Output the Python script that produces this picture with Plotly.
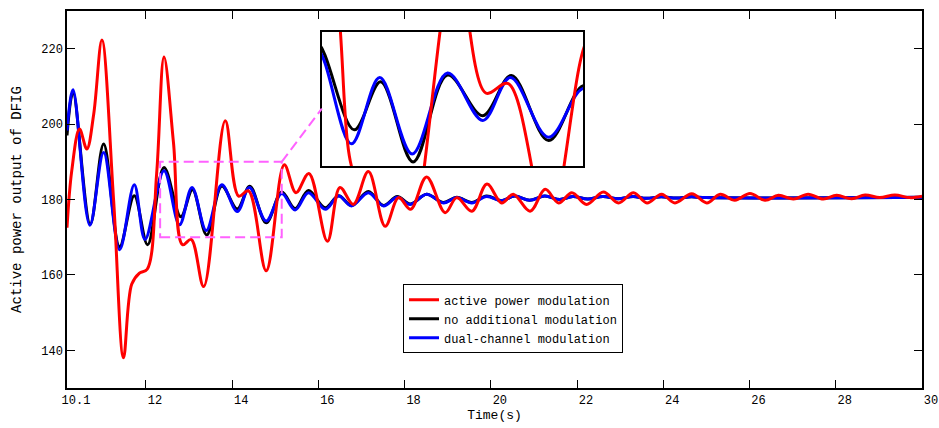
import plotly.graph_objects as go

# ---------------- data ----------------
t_red = [10.17, 10.28, 10.46, 10.63, 10.79, 10.98, 11.25, 11.48, 11.67, 11.85, 12.03, 12.25,
         12.42, 12.64, 12.85, 13.05, 13.34, 13.84, 14.15, 14.38, 14.79, 15.21, 15.48, 15.78,
         16.21, 16.50, 16.81, 17.16, 17.55, 17.86, 18.14, 18.51, 18.94, 19.21, 19.56, 19.91,
         20.25, 20.52, 20.91, 21.26, 21.57, 21.88, 22.22, 22.61, 22.96, 23.31, 23.62, 23.96,
         24.27, 24.66, 25.01, 25.32, 25.66, 26.01, 26.36, 26.67, 27.02, 27.36, 27.71, 28.02,
         28.37, 28.68, 29.02, 29.37, 29.72, 30.0]
p_red = [172.5, 187.6, 198.7, 193.4, 202.7, 222.3, 180.0, 138.0, 157.5, 160.5, 161.5, 187.0,
         217.8, 195.0, 168.0, 169.4, 156.9, 200.9, 180.9, 182.3, 161.1, 189.2, 181.8, 186.9,
         168.9, 183.2, 178.7, 187.4, 172.9, 180.5, 177.4, 186.0, 176.5, 180.5, 176.9, 184.1,
         179.1, 181.4, 176.9, 182.7, 179.1, 181.8, 178.7, 182.0, 179.1, 181.8, 179.1, 181.4,
         179.1, 181.5, 179.1, 181.4, 179.8, 181.6, 179.8, 181.1, 180.1, 181.4, 180.1, 181.1,
         180.2, 181.2, 180.5, 181.2, 180.5, 180.9]

t_black = [10.17, 10.31, 10.71, 11.02, 11.39, 11.73, 12.04, 12.42, 12.81, 13.08, 13.41, 13.76,
           14.12, 14.41, 14.79, 15.15, 15.46, 15.77, 16.16, 16.47, 16.77, 17.16, 17.51, 17.83,
           18.13, 18.51, 18.90, 19.21, 19.56, 19.90, 20.25, 20.55, 20.90, 21.25, 21.60, 21.90,
           22.25, 22.60, 22.95, 23.30, 23.60, 23.95, 24.30, 24.65, 25.00, 30.0]
p_black = [197.0, 208.5, 173.5, 194.7, 167.5, 181.0, 168.0, 188.5, 175.4, 182.6, 170.6, 183.6,
           177.5, 183.5, 173.8, 182.0, 177.6, 182.4, 177.8, 181.0, 178.4, 182.1, 178.4, 180.8,
           178.8, 181.4, 179.2, 180.6, 179.2, 180.9, 179.7, 180.9, 179.8, 180.9, 180.0, 180.8,
           180.1, 180.8, 180.2, 180.8, 180.3, 180.7, 180.4, 180.7, 180.5, 180.6]

t_blue = [10.17, 10.31, 10.70, 11.02, 11.39, 11.73, 11.98, 12.42, 12.78, 13.07, 13.40, 13.76,
          14.12, 14.40, 14.79, 15.15, 15.46, 15.77, 16.16, 16.47, 16.77, 17.16, 17.51, 17.83,
          18.13, 18.51, 18.90, 19.21, 19.56, 19.90, 20.25, 20.55, 20.90, 21.25, 21.60, 21.90,
          22.25, 22.60, 22.95, 23.30, 23.60, 23.95, 24.30, 24.65, 25.00, 30.0]
p_blue = [198.3, 209.1, 173.2, 192.5, 166.7, 183.9, 169.4, 187.6, 173.3, 183.2, 171.8, 183.9,
          176.8, 183.2, 174.3, 181.6, 177.2, 181.8, 177.4, 180.9, 178.3, 181.8, 178.3, 180.6,
          178.7, 181.4, 179.1, 180.5, 179.1, 180.8, 179.7, 180.9, 179.8, 180.9, 180.0, 180.8,
          180.1, 180.8, 180.2, 180.8, 180.3, 180.7, 180.4, 180.7, 180.5, 180.6]

x_tick_vals = [10.17, 12, 14, 16, 18, 20, 22, 24, 26, 28, 30]
x_tick_text = ["10.1", "12", "14", "16", "18", "20", "22", "24", "26", "28", "30"]
y_tick_vals = [140, 160, 180, 200, 220]

x_range = [10.17, 30]
y_range = [130, 230]
zoom_box_x = [12.33, 15.15]
zoom_box_y = [170, 190]
inset_x_range = [12.48, 15.14]
inset_y_range = [170, 190]

series = [
    ("no additional modulation", t_black, p_black, "#000000", 2),
    ("dual-channel modulation", t_blue, p_blue, "#0000FF", 3),
    ("active power modulation", t_red, p_red, "#FF0000", 1),
]

FONT = "Liberation Mono"
MAGENTA = "#FF62FF"

fig = go.Figure()
for name, t, p, col, rank in series:
    fig.add_trace(go.Scatter(x=t, y=p, mode="lines", name=name, legendrank=rank,
                             line=dict(color=col, width=3, shape="spline", smoothing=1.0),
                             xaxis="x", yaxis="y"))
for name, t, p, col, rank in series:
    fig.add_trace(go.Scatter(x=t, y=p, mode="lines", name=name, showlegend=False,
                             line=dict(color=col, width=3, shape="spline", smoothing=1.0),
                             xaxis="x2", yaxis="y2"))

fig.add_shape(type="rect", xref="x", yref="y", x0=zoom_box_x[0], x1=zoom_box_x[1],
              y0=zoom_box_y[0], y1=zoom_box_y[1],
              line=dict(color=MAGENTA, width=2, dash="10px,5px"))
fig.add_shape(type="line", xref="x", yref="y", x0=zoom_box_x[1], y0=zoom_box_y[1],
              x1=16.08, y1=204.1, line=dict(color=MAGENTA, width=2, dash="10px,5px"))

axis_common = dict(showgrid=False, zeroline=False, showline=True, linecolor="black",
                   linewidth=1.5, mirror="ticks", ticks="inside", ticklen=8,
                   tickcolor="black", tickwidth=1, automargin=False,
                   tickfont=dict(family=FONT, size=12, color="black"))

fig.update_layout(
    width=939, height=428,
    margin=dict(l=67, r=17, t=11, b=40),
    paper_bgcolor="white", plot_bgcolor="white",
    xaxis=dict(range=x_range, tickvals=x_tick_vals, ticktext=x_tick_text,
               ticklabelshift=9, domain=[0, 1],
               title=dict(text="Time(s)", font=dict(family=FONT, size=13, color="black"),
                          standoff=0),
               **axis_common),
    yaxis=dict(range=y_range, tickvals=y_tick_vals, domain=[0, 1],
               title=dict(text="Active power output of DFIG",
                          font=dict(family=FONT, size=14, color="black"), standoff=16),
               **axis_common),
    xaxis2=dict(domain=[0.298, 0.6035], range=inset_x_range, anchor="y2",
                showgrid=False, zeroline=False, showline=True, mirror=True, automargin=False,
                linecolor="black", linewidth=1.5, showticklabels=False, ticks=""),
    yaxis2=dict(domain=[0.589, 0.944], range=inset_y_range, anchor="x2",
                showgrid=False, zeroline=False, showline=True, mirror=True, automargin=False,
                linecolor="black", linewidth=1.5, showticklabels=False, ticks=""),
    legend=dict(x=0.393, y=0.275, xanchor="left", yanchor="top",
                bgcolor="white", bordercolor="black", borderwidth=1,
                font=dict(family=FONT, size=12, color="black"),
                itemwidth=30, tracegroupgap=0),
    showlegend=True,
)

# remove the default page margin so the 939x428 figure fills the window exactly
fig.write_html("out.html", config={"displayModeBar": False},
               post_script="document.body.style.margin='0';document.body.style.overflow='hidden';")
